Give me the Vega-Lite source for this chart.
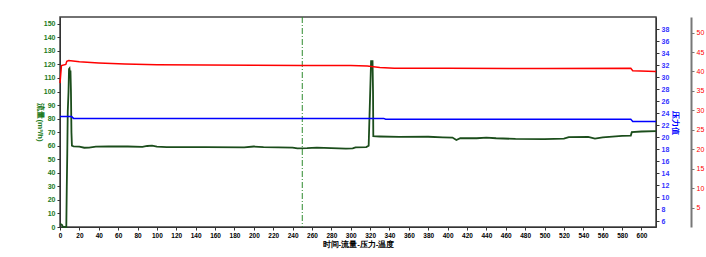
{
  "$schema": "https://vega.github.io/schema/vega-lite/v6.json",
  "width": 596,
  "height": 210,
  "autosize": {"type": "none"},
  "padding": {"left": 60, "top": 17, "right": 50, "bottom": 30},
  "background": "white",
  "config": {
    "view": {"stroke": "#444444", "strokeWidth": 1.5},
    "font": "Liberation Sans",
    "axis": {"labelFontSize": 7, "labelFontWeight": "bold", "labelOverlap": false, "tickSize": 3, "tickColor": "#333333", "domainColor": "#333333", "grid": false, "titleFontSize": 8, "titleFontWeight": "bold"}
  },
  "datasets": {
    "flow": [
      {"t": 0, "v": 2.5}, {"t": 2, "v": 1.5}, {"t": 3, "v": 0}, {"t": 6.5, "v": 0},
      {"t": 7, "v": 30}, {"t": 7.5, "v": 54}, {"t": 8, "v": 85}, {"t": 8.8, "v": 100},
      {"t": 9.3, "v": 116.5}, {"t": 9.8, "v": 117}, {"t": 10.3, "v": 113}, {"t": 10.8, "v": 115.5},
      {"t": 11.3, "v": 100}, {"t": 11.8, "v": 70}, {"t": 12.3, "v": 60}, {"t": 14, "v": 59.5},
      {"t": 20, "v": 59.3}, {"t": 25, "v": 58.5}, {"t": 30, "v": 58.6}, {"t": 37, "v": 59.3},
      {"t": 50, "v": 59.4}, {"t": 70, "v": 59.4}, {"t": 85, "v": 59.2}, {"t": 90, "v": 59.8},
      {"t": 95, "v": 60}, {"t": 100, "v": 59.3}, {"t": 110, "v": 59}, {"t": 150, "v": 58.9},
      {"t": 190, "v": 58.8}, {"t": 200, "v": 59.4}, {"t": 210, "v": 59}, {"t": 240, "v": 58.6},
      {"t": 245, "v": 58}, {"t": 255, "v": 58.2}, {"t": 265, "v": 58.6}, {"t": 280, "v": 58.2},
      {"t": 295, "v": 57.8}, {"t": 302, "v": 58}, {"t": 305, "v": 58.8}, {"t": 316, "v": 59},
      {"t": 318.5, "v": 60}, {"t": 319.5, "v": 85}, {"t": 320.5, "v": 110}, {"t": 321, "v": 122.5},
      {"t": 322.5, "v": 122.5}, {"t": 323, "v": 100}, {"t": 323.3, "v": 67}, {"t": 330, "v": 66.8},
      {"t": 350, "v": 66.5}, {"t": 380, "v": 66.6}, {"t": 395, "v": 66.2}, {"t": 405, "v": 66},
      {"t": 409, "v": 64.2}, {"t": 413, "v": 65.5}, {"t": 430, "v": 65.5}, {"t": 440, "v": 66},
      {"t": 450, "v": 65.5}, {"t": 470, "v": 65}, {"t": 500, "v": 64.8}, {"t": 520, "v": 65.2},
      {"t": 525, "v": 66.3}, {"t": 545, "v": 66.5}, {"t": 552, "v": 65.3}, {"t": 560, "v": 66.2},
      {"t": 580, "v": 67.3}, {"t": 589, "v": 67.5}, {"t": 590, "v": 70}, {"t": 600, "v": 70.5},
      {"t": 615, "v": 70.7}
    ],
    "temp": [
      {"t": 0, "v": 37}, {"t": 1.5, "v": 41.5}, {"t": 6, "v": 41.8}, {"t": 7, "v": 42.6},
      {"t": 9, "v": 42.8}, {"t": 20, "v": 42.5}, {"t": 40, "v": 42.2}, {"t": 67, "v": 41.9},
      {"t": 100, "v": 41.7}, {"t": 200, "v": 41.6}, {"t": 250, "v": 41.55}, {"t": 300, "v": 41.5},
      {"t": 317, "v": 41.4}, {"t": 330, "v": 41.0}, {"t": 345, "v": 40.8}, {"t": 400, "v": 40.8},
      {"t": 500, "v": 40.75}, {"t": 589, "v": 40.8}, {"t": 591, "v": 40.2}, {"t": 615, "v": 40.0}
    ],
    "pressure": [
      {"t": 0, "v": 23.4}, {"t": 12, "v": 23.4}, {"t": 14, "v": 23.1}, {"t": 334, "v": 23.1},
      {"t": 336, "v": 22.95}, {"t": 589, "v": 22.95}, {"t": 591, "v": 22.6}, {"t": 615, "v": 22.6}
    ],
    "marker": [{"t": 250}]
  },
  "resolve": {"scale": {"y": "independent"}},
  "encoding": {
    "x": {"field": "t", "type": "quantitative", "scale": {"domain": [0, 615], "nice": false},
      "axis": {"values": [0,20,40,60,80,100,120,140,160,180,200,220,240,260,280,300,320,340,360,380,400,420,440,460,480,500,520,540,560,580,600], "labelOverlap": false, "labelFlush": false, "labelFontSize": 6.5, "title": "时间-流量-压力-温度", "labelColor": "#000000", "titleColor": "#000000", "titlePadding": 2}}
  },
  "layer": [
    {
      "data": {"name": "marker"},
      "mark": {"type": "rule", "color": "#2e8b2e", "strokeWidth": 1, "strokeDash": [6, 2, 1, 2]},
      "encoding": {}
    },
    {
      "data": {"name": "flow"},
      "mark": {"type": "line", "color": "#1b4d1b", "strokeWidth": 1.8},
      "encoding": {
        "y": {"field": "v", "type": "quantitative", "scale": {"domain": [0, 155], "nice": false},
          "axis": {"orient": "left", "labelOverlap": false, "values": [0,10,20,30,40,50,60,70,80,90,100,110,120,130,140,150], "title": "流量(m³/h)", "titleAngle": 90, "titleColor": "#1b7a1b", "labelColor": "#1b7a1b", "titlePadding": 8}}
      }
    },
    {
      "data": {"name": "pressure"},
      "mark": {"type": "line", "color": "#0000ff", "strokeWidth": 1.5},
      "encoding": {
        "y": {"field": "v", "type": "quantitative", "scale": {"domain": [5, 40], "nice": false},
          "axis": {"orient": "right", "labelOverlap": false, "values": [6,8,10,12,14,16,18,20,22,24,26,28,30,32,34,36,38], "title": "压力值", "titleAngle": 90, "titleColor": "#0000ff", "labelColor": "#3333ff", "titlePadding": 2}}
      }
    },
    {
      "data": {"name": "temp"},
      "mark": {"type": "line", "color": "#ff0000", "strokeWidth": 1.5},
      "encoding": {
        "y": {"field": "v", "type": "quantitative", "scale": {"domain": [0, 54], "nice": false},
          "axis": {"orient": "right", "offset": 35, "labelOverlap": false, "values": [5,10,15,20,25,30,35,40,45,50], "title": null, "labelColor": "#ff0000", "labelFontWeight": "normal", "domainColor": "#777777", "domainWidth": 2, "tickColor": "#777777"}}
      }
    }
  ]
}
